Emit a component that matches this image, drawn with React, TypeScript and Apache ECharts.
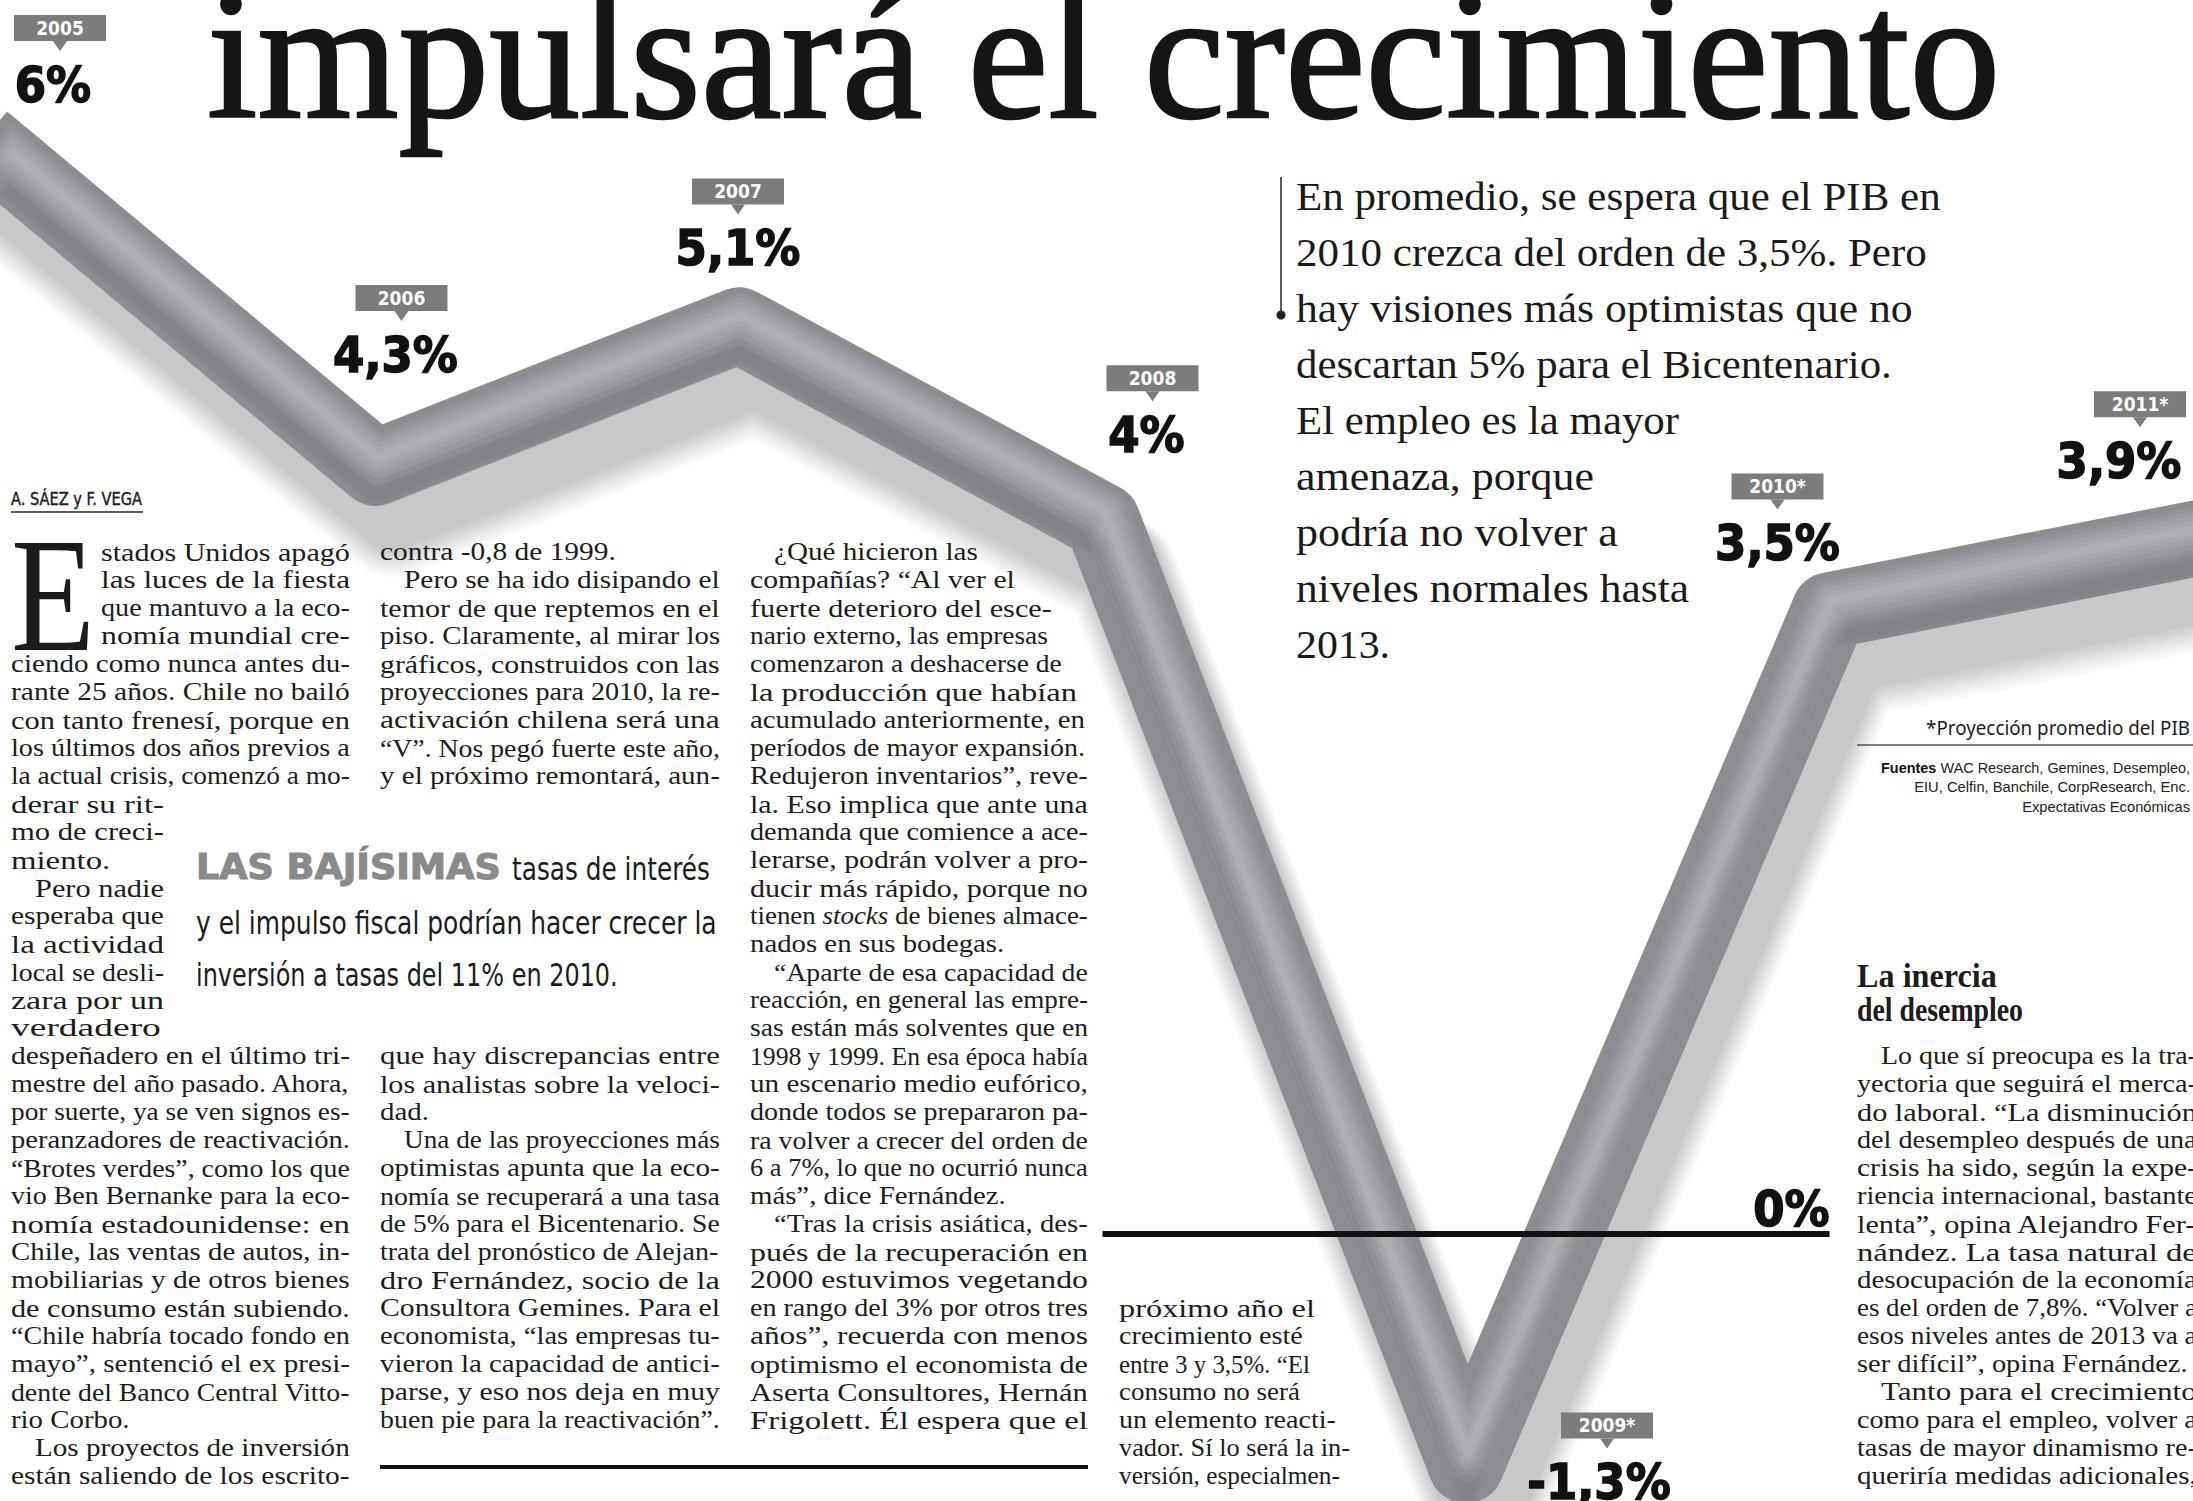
import React, { useEffect, useRef } from 'react';
import * as echarts from 'echarts';

// ---------- DATA ----------
const YEARS = ['2005', '2006', '2007', '2008', '2009*', '2010*', '2011*'];
const GROWTH = [6, 4.3, 5.1, 4, -1.3, 3.5, 3.9];
const VALUE_LABELS = GROWTH.map((v) => String(v).replace('.', ',') + '%');
const ZERO_LABEL = '0%';

const HEADLINE = 'impulsará el crecimiento';
const BYLINE = 'A. SÁEZ y F. VEGA';
const DROP_CAP = 'E';

const QUOTE_LINES = [
  'En promedio, se espera que el PIB en',
  '2010 crezca del orden de 3,5%. Pero',
  'hay visiones más optimistas que no',
  'descartan 5% para el Bicentenario.',
  'El empleo es la mayor',
  'amenaza, porque',
  'podría no volver a',
  'niveles normales hasta',
  '2013.',
];

const NOTE = '*Proyección promedio del PIB';
const SOURCE_LABEL = 'Fuentes';
const SOURCE_LINES = [
  ' WAC Research, Gemines, Desempleo,',
  'EIU, Celfin, Banchile, CorpResearch, Enc.',
  'Expectativas Económicas',
];

const PULL_QUOTE = [
  'LAS BAJÍSIMAS',
  'tasas de interés',
  'y el impulso fiscal podrían hacer crecer la',
  'inversión a tasas del 11% en 2010.',
];

const SIDE_HEADING = ['La inercia', 'del desempleo'];

// "^" = paragraph indent, "|" = last line of paragraph (not justified), *x* = italic
const COL1_DROP = ['stados Unidos apagó', 'las luces de la fiesta', 'que mantuvo a la eco-', 'nomía mundial cre-'];
const COL1_WIDE = [
  'ciendo como nunca antes du-',
  'rante 25 años. Chile no bailó',
  'con tanto frenesí, porque en',
  'los últimos dos años previos a',
  'la actual crisis, comenzó a mo-',
];
const COL1_NARROW = ['derar su rit-', 'mo de creci-', 'miento.|', '^Pero nadie', 'esperaba que', 'la actividad', 'local se desli-', 'zara por un', 'verdadero'];
const COL1_REST = [
  'despeñadero en el último tri-',
  'mestre del año pasado. Ahora,',
  'por suerte, ya se ven signos es-',
  'peranzadores de reactivación.',
  '“Brotes verdes”, como los que',
  'vio Ben Bernanke para la eco-',
  'nomía estadounidense: en',
  'Chile, las ventas de autos, in-',
  'mobiliarias y de otros bienes',
  'de consumo están subiendo.',
  '“Chile habría tocado fondo en',
  'mayo”, sentenció el ex presi-',
  'dente del Banco Central Vitto-',
  'rio Corbo.|',
  '^Los proyectos de inversión',
  'están saliendo de los escrito-',
];
const COL2_TOP = [
  'contra -0,8 de 1999.|',
  '^Pero se ha ido disipando el',
  'temor de que reptemos en el',
  'piso. Claramente, al mirar los',
  'gráficos, construidos con las',
  'proyecciones para 2010, la re-',
  'activación chilena será una',
  '“V”. Nos pegó fuerte este año,',
  'y el próximo remontará, aun-',
];
const COL2_BOTTOM = [
  'que hay discrepancias entre',
  'los analistas sobre la veloci-',
  'dad.|',
  '^Una de las proyecciones más',
  'optimistas apunta que la eco-',
  'nomía se recuperará a una tasa',
  'de 5% para el Bicentenario. Se',
  'trata del pronóstico de Alejan-',
  'dro Fernández, socio de la',
  'Consultora Gemines. Para el',
  'economista, “las empresas tu-',
  'vieron la capacidad de antici-',
  'parse, y eso nos deja en muy',
  'buen pie para la reactivación”.',
];
const COL3 = [
  '^¿Qué hicieron las',
  'compañías? “Al ver el',
  'fuerte deterioro del esce-',
  'nario externo, las empresas',
  'comenzaron a deshacerse de',
  'la producción que habían',
  'acumulado anteriormente, en',
  'períodos de mayor expansión.',
  'Redujeron inventarios”, reve-',
  'la. Eso implica que ante una',
  'demanda que comience a ace-',
  'lerarse, podrán volver a pro-',
  'ducir más rápido, porque no',
  'tienen *stocks* de bienes almace-',
  'nados en sus bodegas.|',
  '^“Aparte de esa capacidad de',
  'reacción, en general las empre-',
  'sas están más solventes que en',
  '1998 y 1999. En esa época había',
  'un escenario medio eufórico,',
  'donde todos se prepararon pa-',
  'ra volver a crecer del orden de',
  '6 a 7%, lo que no ocurrió nunca',
  'más”, dice Fernández.|',
  '^“Tras la crisis asiática, des-',
  'pués de la recuperación en',
  '2000 estuvimos vegetando',
  'en rango del 3% por otros tres',
  'años”, recuerda con menos',
  'optimismo el economista de',
  'Aserta Consultores, Hernán',
  'Frigolett. Él espera que el',
];
const COL4 = [
  'próximo año el',
  'crecimiento esté',
  'entre 3 y 3,5%. “El',
  'consumo no será',
  'un elemento reacti-',
  'vador. Sí lo será la in-',
  'versión, especialmen-',
];
const COL5 = [
  '^Lo que sí preocupa es la tra-',
  'yectoria que seguirá el merca-',
  'do laboral. “La disminución',
  'del desempleo después de una',
  'crisis ha sido, según la expe-',
  'riencia internacional, bastante',
  'lenta”, opina Alejandro Fer-',
  'nández. La tasa natural de',
  'desocupación de la economía',
  'es del orden de 7,8%. “Volver a',
  'esos niveles antes de 2013 va a',
  'ser difícil”, opina Fernández.|',
  '^Tanto para el crecimiento',
  'como para el empleo, volver a',
  'tasas de mayor dinamismo re-',
  'queriría medidas adicionales,',
];

// ---------- STYLE / LAYOUT ----------
const SERIF = "'Liberation Serif', 'Times New Roman', serif";
const NARROW = "'Liberation Sans Narrow', 'DejaVu Sans Condensed', sans-serif";
const COND = "'DejaVu Sans Condensed', 'DejaVu Sans', sans-serif";
const BODY_FONT = `25px ${SERIF}`;
const BODY_ITALIC = `italic 25px ${SERIF}`;
const INK = '#1c1c1c';
const BOX = '#7c7c7c';
const TUBE = '#8c8c92';
const TUBE_W = 76;
const Y0 = 552;
const LH = 28;
const INDENT = 24;

// label placement relative to each data point (box centre x, box top y), px
const LABEL_OFFSETS = [[48, -150], [26, -183], [-1, -147], [50, -156], [141, -53], [-52, -137], [-53, -148]];
const VALUE_DX = [-7, -6, 0, -6, -8, 0, -21];

// tube shading layers: [dx, dy, width, colour]
const SHADOW_LAYERS: [number, number, number, string][] = [
  [18, 52, 114, 'rgba(40,40,40,0.022)'],
  [18, 51, 110, 'rgba(40,40,40,0.022)'],
  [18, 50, 106, 'rgba(40,40,40,0.024)'],
  [18, 49, 102, 'rgba(40,40,40,0.024)'],
  [18, 48, 98, 'rgba(40,40,40,0.026)'],
  [18, 47, 94, 'rgba(40,40,40,0.026)'],
  [18, 46, 90, 'rgba(40,40,40,0.028)'],
  [18, 45, 86, 'rgba(40,40,40,0.028)'],
  [18, 44, 82, 'rgba(40,40,40,0.03)'],
  [18, 43, 78, 'rgba(40,40,40,0.03)'],
];
const SHADE_LAYERS: [number, number, number, string][] = [
  [0, 26, 24, 'rgba(0,0,0,0.03)'],
  [0, 28, 14, 'rgba(0,0,0,0.03)'],
  [2, -8, 48, 'rgba(255,255,255,0.06)'],
  [2, -9, 38, 'rgba(255,255,255,0.07)'],
  [2, -10, 28, 'rgba(255,255,255,0.08)'],
  [2, -10, 18, 'rgba(255,255,255,0.08)'],
  [2, -10, 9, 'rgba(255,255,255,0.08)'],
];

let ctx: CanvasRenderingContext2D | null = null;
function measure(font: string, text: string) {
  if (!ctx) ctx = document.createElement('canvas').getContext('2d');
  ctx!.font = font;
  return ctx!.measureText(text).width;
}

function txt(text: string, x: number, y: number, font: string, o: any = {}) {
  const align = o.align || 'left';
  const style: any = {
    text, x: 0, y: 0, font, fill: o.fill || INK,
    textAlign: align, textVerticalAlign: 'middle', align, verticalAlign: 'middle',
  };
  if (o.stroke) { style.stroke = o.stroke; style.lineWidth = o.lineWidth || 1; }
  if (o.rich) style.rich = o.rich;
  return { type: 'text', x, y, scaleX: o.sx || 1, z: o.z || 60, silent: true, style };
}

function fit(text: string, x: number, y: number, font: string, width: number, o: any = {}) {
  return txt(text, x, y, font, { ...o, sx: width / measure(font, text) });
}

function column(lines: string[], x0: number, rights: number | number[], startIdx: number) {
  const items = lines.map((raw, k) => {
    let t = raw;
    let indent = 0;
    let ragged = false;
    if (t.startsWith('^')) { indent = INDENT; t = t.slice(1); }
    if (t.endsWith('|')) { ragged = true; t = t.slice(0, -1); }
    const parts = t.split('*').map((p, i) => ({ p, it: i % 2 === 1 })).filter((s) => s.p);
    const nat = parts.reduce((a, s) => a + measure(s.it ? BODY_ITALIC : BODY_FONT, s.p), 0);
    const right = Array.isArray(rights) ? rights[k] : rights;
    const target = right - x0 - indent;
    const rich = parts.some((s) => s.it);
    const text = parts.map((s) => (s.it ? `{it|${s.p}}` : s.p)).join('');
    return { k, indent, ragged, nat, target, rich, text };
  });
  const js = items.filter((i) => !i.ragged).map((i) => i.target / i.nat).sort((a, b) => a - b);
  const base = js.length ? js[Math.floor(js.length / 2)] : 1;
  return items.map((it) => {
    let sx = it.ragged ? Math.min(base, it.target / it.nat) : it.target / it.nat;
    sx = Math.max(0.7, Math.min(1.5, sx));
    return txt(it.text, x0 + it.indent, Y0 + LH * (startIdx + it.k), BODY_FONT, {
      sx,
      rich: it.rich ? { it: { font: BODY_ITALIC, fill: INK } } : undefined,
    });
  });
}

function buildGraphics() {
  const els: any[] = [];
  els.push(fit(HEADLINE, 207, 55, `184px ${SERIF}`, 1793, { fill: '#151515', stroke: '#151515', lineWidth: 2.5 }));
  els.push(fit(BYLINE, 11, 499, `17px ${NARROW}`, 131, { stroke: INK, lineWidth: 0.4 }));
  els.push({ type: 'line', z: 60, silent: true, shape: { x1: 11, y1: 512, x2: 143, y2: 512 }, style: { stroke: '#222', lineWidth: 1.5 } });
  els.push(fit(DROP_CAP, 11, 595, `164px ${SERIF}`, 84));

  els.push(...column(COL1_DROP, 101, 350, 0));
  els.push(...column(COL1_WIDE, 11, 350, 4));
  els.push(...column(COL1_NARROW, 11, 164, 9));
  els.push(...column(COL1_REST, 11, 350, 18));
  els.push(...column(COL2_TOP, 380, 720, 0));
  els.push(...column(COL2_BOTTOM, 380, 720, 18));
  const col3Right = COL3.map((_, i) => [978, 1015, 1052, 1048, 1062, 1077, 1085, 1085][i] || 1088);
  els.push(...column(COL3, 750, col3Right, 0));
  els.push(...column(COL4, 1119, [1315, 1303, 1310, 1300, 1336, 1350, 1340], 27));
  els.push(...column(COL5, 1857, 2197, 18));

  // pull quote
  els.push(fit(PULL_QUOTE[0], 196, 867, `bold 35px ${COND}`, 305, { fill: '#8a8a8a', stroke: '#8a8a8a', lineWidth: 1 }));
  els.push(fit(PULL_QUOTE[1], 512, 869, `32px ${NARROW}`, 198));
  els.push(fit(PULL_QUOTE[2], 196, 923, `32px ${NARROW}`, 521));
  els.push(fit(PULL_QUOTE[3], 196, 975, `32px ${NARROW}`, 422));

  // side heading
  els.push(fit(SIDE_HEADING[0], 1857, 975, `bold 34px ${SERIF}`, 140));
  els.push(fit(SIDE_HEADING[1], 1857, 1010, `bold 34px ${SERIF}`, 166));

  // big quote
  const qW = [645, 631, 617, 596, 383, 298, 322, 393, 94];
  QUOTE_LINES.forEach((l, i) => els.push(fit(l, 1296, 196 + 56 * i, `41px ${SERIF}`, qW[i], { fill: '#1a1a1a' })));
  els.push({ type: 'line', z: 60, silent: true, shape: { x1: 1281, y1: 177, x2: 1281, y2: 315 }, style: { stroke: '#222', lineWidth: 1.5 } });
  els.push({ type: 'circle', z: 60, silent: true, shape: { cx: 1281, cy: 315, r: 4.5 }, style: { fill: '#222' } });

  // note + sources
  const noteFont = `20px 'Noto Sans', 'Liberation Sans', sans-serif`;
  els.push(fit(NOTE, 2190, 727, noteFont, 264, { align: 'right' }));
  els.push({ type: 'line', z: 60, silent: true, shape: { x1: 1857, y1: 745, x2: 2193, y2: 745 }, style: { stroke: '#555', lineWidth: 1.5 } });
  const srcFont = `15px 'Liberation Sans', sans-serif`;
  const srcBold = `bold 15px 'Liberation Sans', sans-serif`;
  const w0 = measure(srcBold, SOURCE_LABEL) + measure(srcFont, SOURCE_LINES[0]);
  els.push(txt(`{b|${SOURCE_LABEL}}${SOURCE_LINES[0]}`, 2190, 768, srcFont, {
    align: 'right', sx: 309 / w0, fill: '#222', rich: { b: { font: srcBold, fill: '#111' } },
  }));
  els.push(fit(SOURCE_LINES[1], 2190, 787, srcFont, 276, { align: 'right', fill: '#222' }));
  els.push(fit(SOURCE_LINES[2], 2190, 807, srcFont, 168, { align: 'right', fill: '#222' }));

  // rule under columns 2-3
  els.push({ type: 'line', z: 60, silent: true, shape: { x1: 380, y1: 1467, x2: 1088, y2: 1467 }, style: { stroke: '#111', lineWidth: 4 } });
  return els;
}

function tubeLayers(layers: [number, number, number, string][]) {
  return (params: any, api: any) => {
    const pts = GROWTH.map((v, i) => api.coord([i, v]));
    return {
      type: 'group',
      children: layers.map(([dx, dy, w, c]) => ({
        type: 'polyline',
        shape: { points: pts.map((p: number[]) => [p[0] + dx, p[1] + dy]) },
        style: { fill: 'none', stroke: c, lineWidth: w, lineJoin: 'round', lineCap: 'square' },
      })),
    };
  };
}

function buildOption() {
  return {
    animation: false,
    backgroundColor: '#ffffff',
    grid: { left: 12, right: 0, top: 76, bottom: 0, containLabel: false },
    xAxis: { type: 'category', data: YEARS, boundaryGap: false, show: false },
    yAxis: { type: 'value', min: -1.5, max: 6.5, show: false, splitLine: { show: false } },
    series: [
      {
        type: 'custom', name: 'sombra', z: 0, silent: true, clip: false,
        data: [[0, GROWTH[0]]],
        renderItem: tubeLayers(SHADOW_LAYERS),
      },
      {
        type: 'line', name: 'cero', data: GROWTH, z: 1, symbol: 'none', silent: true,
        lineStyle: { opacity: 0 },
        markLine: {
          silent: true, symbol: ['none', 'none'], animation: false,
          lineStyle: { color: '#111', width: 6, type: 'solid' },
          label: {
            show: true, position: 'insideEndTop', formatter: ZERO_LABEL, color: '#111',
            fontFamily: COND, fontWeight: 'bold', fontSize: 50, distance: 0,
            textBorderColor: '#111', textBorderWidth: 1.5,
          },
          emphasis: { disabled: true },
          data: [[{ coord: [3, 0] }, { coord: [5, 0] }]],
        },
      },
      {
        type: 'line', name: 'PIB', data: GROWTH, z: 2, symbol: 'none', silent: true,
        lineStyle: { width: TUBE_W, color: TUBE, cap: 'square', join: 'round' },
      },
      {
        type: 'custom', name: 'brillo', z: 3, silent: true, clip: false,
        data: [[0, GROWTH[0]]],
        renderItem: tubeLayers(SHADE_LAYERS),
      },
      {
        type: 'custom', name: 'labels', z: 10, silent: true,
        data: GROWTH.map((v, i) => [i, v]),
        renderItem: (params: any, api: any) => {
          const i = params.dataIndex;
          const p = api.coord([api.value(0), api.value(1)]);
          const cx = p[0] + LABEL_OFFSETS[i][0];
          const top = p[1] + LABEL_OFFSETS[i][1];
          return {
            type: 'group',
            children: [
              { type: 'rect', shape: { x: cx - 46, y: top, width: 92, height: 26 }, style: { fill: BOX } },
              { type: 'polygon', shape: { points: [[cx - 7, top + 26], [cx + 7, top + 26], [cx, top + 36]] }, style: { fill: BOX } },
              {
                type: 'text',
                style: {
                  text: YEARS[i], x: cx, y: top + 13, fill: '#ffffff', font: `bold 19px ${COND}`,
                  textAlign: 'center', textVerticalAlign: 'middle', align: 'center', verticalAlign: 'middle',
                },
              },
              {
                type: 'text',
                style: {
                  text: VALUE_LABELS[i], x: cx + VALUE_DX[i], y: top + 70, fill: '#111111', font: `bold 50px ${COND}`,
                  stroke: '#111111', lineWidth: 1.5,
                  textAlign: 'center', textVerticalAlign: 'middle', align: 'center', verticalAlign: 'middle',
                },
              },
            ],
          };
        },
      },
    ],
    graphic: { elements: buildGraphics() },
  };
}

export default function App() {
  const ref = useRef<HTMLDivElement>(null);
  useEffect(() => {
    const chart = echarts.init(ref.current as HTMLDivElement, null, { renderer: 'svg' });
    chart.setOption(buildOption() as any);
    return () => chart.dispose();
  }, []);
  return (
    <div
      ref={ref}
      style={{ position: 'fixed', left: 0, top: 0, width: 2193, height: 1501, background: '#ffffff' }}
    />
  );
}
